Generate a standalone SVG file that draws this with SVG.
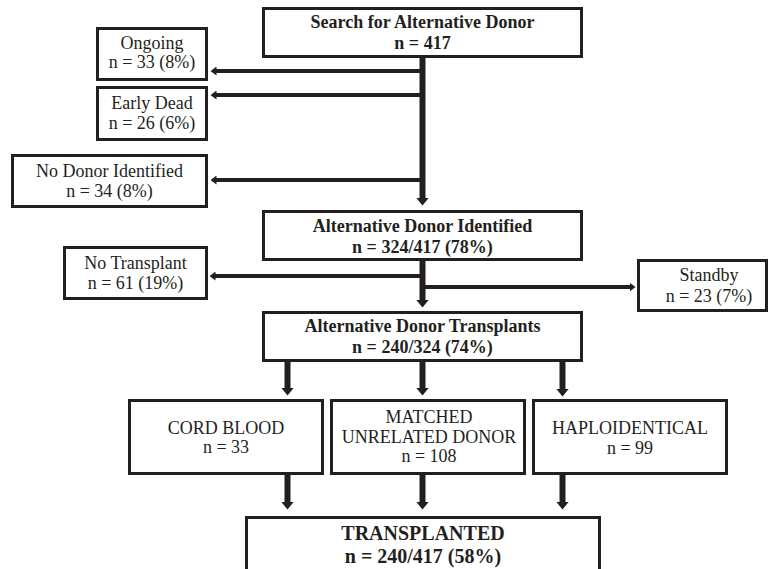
<svg xmlns="http://www.w3.org/2000/svg" width="769" height="569" viewBox="0 0 769 569">
<style>
.box{fill:#fff;stroke:#231f20;stroke-width:3}
.t{font-family:"Liberation Serif","Times New Roman",serif;font-size:18px;fill:#231f20;text-anchor:middle}
.b{font-weight:bold}
.big{font-size:20px}
.v{stroke:#231f20;stroke-width:6;fill:none}
.h{stroke:#231f20;stroke-width:4;fill:none}
</style>
<defs>
<marker id="hb" markerUnits="userSpaceOnUse" markerWidth="8" markerHeight="13" refX="0.5" refY="6.5" orient="auto">
<path d="M0,0 L8,6.5 L0,13 z" fill="#231f20"/>
</marker>
<marker id="hs" markerUnits="userSpaceOnUse" markerWidth="6" markerHeight="9" refX="0.5" refY="4.5" orient="auto">
<path d="M0,0 L6,4.5 L0,9 z" fill="#231f20"/>
</marker>
</defs>
<rect width="769" height="569" fill="#fff"/>
<g id="connectors">
<path class="v" d="M422.5,57 V198" marker-end="url(#hb)"/>
<path class="h" d="M424,71 H216" marker-end="url(#hs)"/>
<path class="h" d="M424,95 H216" marker-end="url(#hs)"/>
<path class="h" d="M424,180 H216" marker-end="url(#hs)"/>
<path class="v" d="M422.5,260 V300" marker-end="url(#hb)"/>
<path class="h" d="M424,276 H215" marker-end="url(#hs)"/>
<path class="h" d="M421,287 H630" marker-end="url(#hs)"/>
<path class="v" d="M287.5,361 V388" marker-end="url(#hb)"/>
<path class="v" d="M422.5,361 V388" marker-end="url(#hb)"/>
<path class="v" d="M562.5,361 V389" marker-end="url(#hb)"/>
<path class="v" d="M287.5,474 V502" marker-end="url(#hb)"/>
<path class="v" d="M422.5,474 V502" marker-end="url(#hb)"/>
<path class="v" d="M562.5,474 V502" marker-end="url(#hb)"/>
</g>
<g id="search">
<rect class="box" x="263.5" y="8.5" width="318" height="48"/>
<text class="t b" x="422.5" y="28">Search for Alternative Donor</text>
<text class="t b" x="422.5" y="49">n = 417</text>
</g>
<g id="ongoing">
<rect class="box" x="97.5" y="28.5" width="109" height="51"/>
<text class="t" x="152" y="49">Ongoing</text>
<text class="t" x="152" y="68">n = 33 (8%)</text>
</g>
<g id="early-dead">
<rect class="box" x="97.5" y="87.5" width="109" height="52"/>
<text class="t" x="152" y="108.5">Early Dead</text>
<text class="t" x="152" y="128.5">n = 26 (6%)</text>
</g>
<g id="no-donor">
<rect class="box" x="12.5" y="155.5" width="194" height="51"/>
<text class="t" x="109.5" y="176.5">No Donor Identified</text>
<text class="t" x="109.5" y="197">n = 34 (8%)</text>
</g>
<g id="donor-identified">
<rect class="box" x="263.5" y="211.5" width="318" height="48"/>
<text class="t b" x="422.5" y="231.5">Alternative Donor Identified</text>
<text class="t b" x="422.5" y="252.5">n = 324/417 (78%)</text>
</g>
<g id="no-transplant">
<rect class="box" x="64.5" y="247.5" width="142" height="51"/>
<text class="t" x="135.5" y="269">No Transplant</text>
<text class="t" x="135.5" y="289">n = 61 (19%)</text>
</g>
<g id="standby">
<rect class="box" x="638.5" y="260.5" width="128" height="50"/>
<text class="t" x="709" y="281">Standby</text>
<text class="t" x="709" y="302">n = 23 (7%)</text>
</g>
<g id="donor-transplants">
<rect class="box" x="263.5" y="312.5" width="318" height="48"/>
<text class="t b" x="422.5" y="332">Alternative Donor Transplants</text>
<text class="t b" x="422.5" y="352.5">n = 240/324 (74%)</text>
</g>
<g id="cord-blood">
<rect class="box" x="129.5" y="400.5" width="193" height="73"/>
<text class="t" x="226" y="433.5">CORD BLOOD</text>
<text class="t" x="226" y="453">n = 33</text>
</g>
<g id="matched">
<rect class="box" x="331.5" y="400.5" width="193" height="73"/>
<text class="t" x="429" y="423">MATCHED</text>
<text class="t" x="429" y="443">UNRELATED DONOR</text>
<text class="t" x="429" y="462">n = 108</text>
</g>
<g id="haplo">
<rect class="box" x="533.5" y="400.5" width="193" height="73"/>
<text class="t" x="630" y="433.5">HAPLOIDENTICAL</text>
<text class="t" x="630" y="453.5">n = 99</text>
</g>
<g id="transplanted">
<rect class="box" x="246.5" y="517.5" width="353" height="80"/>
<text class="t b big" x="423" y="539.5">TRANSPLANTED</text>
<text class="t b big" x="423" y="563">n = 240/417 (58%)</text>
</g>
</svg>
